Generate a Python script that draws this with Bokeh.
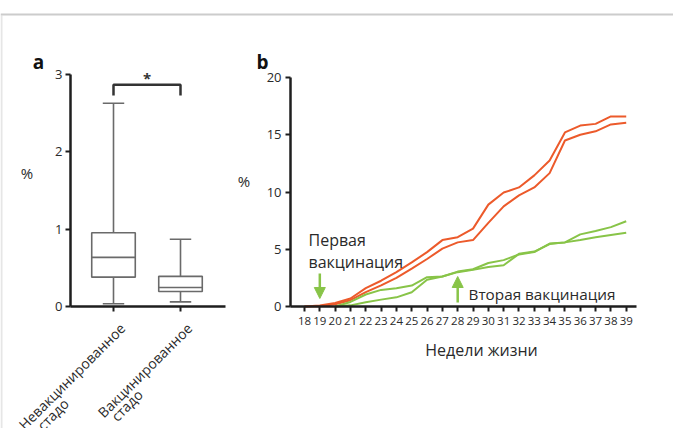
import math
from bokeh.plotting import figure
from bokeh.models import (Label, Arrow, NormalHead, FixedTicker, Range1d, LinearAxis, Span)
from bokeh.embed import file_html
from bokeh.resources import INLINE

FONT = "Open Sans"

# ---------------- Panel a data (box plot) ----------------
group_names = ["Невакцинированное", "Вакцинированное"]
group_second_line = ["стадо", "стадо"]
group_pos = [1, 2]
whisk_low = [0.035, 0.06]
q1 = [0.38, 0.195]
median = [0.635, 0.245]
q3 = [0.955, 0.39]
whisk_high = [2.63, 0.87]
sig_mark = "*"
ya_ticks = [0, 1, 2, 3]

# ---------------- Panel b data (cumulative lines) ----------------
weeks = list(range(18, 40))
red_upper = [0, 0.08, 0.3, 0.7, 1.6, 2.25, 3.0, 3.85, 4.75, 5.8, 6.05, 6.8,
             8.9, 9.95, 10.4, 11.45, 12.75, 15.2, 15.8, 15.95, 16.6, 16.6]
red_lower = [0, 0.03, 0.2, 0.55, 1.25, 1.85, 2.5, 3.3, 4.15, 5.05, 5.6, 5.8,
             7.3, 8.75, 9.7, 10.4, 11.65, 14.5, 15.0, 15.3, 15.9, 16.05]
green_weeks = list(range(20, 40))
green_upper = [0, 0.4, 1.05, 1.45, 1.6, 1.83, 2.56, 2.62, 3.05, 3.25, 3.8, 4.05,
               4.55, 4.75, 5.5, 5.6, 6.3, 6.6, 6.93, 7.45]
green_lower = [0, 0.1, 0.38, 0.6, 0.8, 1.25, 2.33, 2.62, 3.0, 3.2, 3.45, 3.6,
               4.6, 4.8, 5.45, 5.6, 5.8, 6.05, 6.25, 6.45]
yb_ticks = [0, 5, 10, 15, 20]
first_vacc_week = 19
second_vacc_week = 28
first_vacc_text = ["Первая", "вакцинация"]
second_vacc_text = "Вторая вакцинация"
xb_title = "Недели жизни"

RED = "#ec5a2b"
GREEN = "#88c448"
AXIS = "#1e1e1e"
BOXC = "#6a6a6a"
TXT = "#2a2a2a"

W, H = 673, 428
# One canvas; main ranges = canvas pixels, panel data on extra ranges
p = figure(width=W, height=H, x_range=Range1d(0, W), y_range=Range1d(H, 0),
           x_axis_location=None, y_axis_location=None, min_border=0, title=None,
           output_backend="svg", toolbar_location=None)
p.outline_line_color = None
p.xgrid.grid_line_color = None
p.ygrid.grid_line_color = None

# panel a scales: category 1 at px 113, 67 px/unit; y=0 at px 306, 77.3 px/unit
p.extra_x_ranges["ax"] = Range1d(1 + (0 - 113) / 67, 1 + (W - 113) / 67)
p.extra_y_ranges["ay"] = Range1d((306 - H) / 77.3, (306 - 0) / 77.3)
# panel b scales: week 18 at px 304, 15.32 px/week; y=0 at px 306, 11.45 px/unit
p.extra_x_ranges["bx"] = Range1d(18 + (0 - 304) / 15.32, 18 + (W - 304) / 15.32)
p.extra_y_ranges["by"] = Range1d((306 - H) / 11.45, (306 - 0) / 11.45)

A = dict(x_range_name="ax", y_range_name="ay")
B = dict(x_range_name="bx", y_range_name="by")


def style_axis(ax, size):
    ax.axis_line_color = AXIS
    ax.axis_line_width = 2.5
    ax.major_tick_line_color = AXIS
    ax.major_tick_line_width = 2
    ax.major_tick_in = 0
    ax.major_tick_out = 5
    ax.minor_tick_line_color = None
    ax.major_label_text_font = FONT
    ax.major_label_text_color = TXT
    ax.major_label_text_font_size = size


# page frame: top rule and faint left border
p.add_layout(Span(location=14, dimension="width", line_color="#cccccc", line_width=2))
p.segment(x0=[1], y0=[15], x1=[1], y1=[H], line_color="#e6e6e6", line_width=2)

# ================= Panel a =================
a_left, a_right = 1 + (70 - 113) / 67, 1 + (225 - 113) / 67
ya = LinearAxis(fixed_location=a_left, ticker=FixedTicker(ticks=ya_ticks), bounds=(0, 3), **A)
style_axis(ya, "13px")
ya.major_label_standoff = 3
p.add_layout(ya, "left")
xa = LinearAxis(fixed_location=0, ticker=FixedTicker(ticks=group_pos), bounds=(a_left, a_right), **A)
style_axis(xa, "13px")
xa.major_label_overrides = {g: "" for g in group_pos}
p.add_layout(xa, "below")

half = 0.325
cap = 0.16
p.quad(left=[x - half for x in group_pos], right=[x + half for x in group_pos],
       bottom=q1, top=q3, fill_color="white", line_color=BOXC, line_width=1.6, **A)
p.segment(x0=[x - half for x in group_pos], x1=[x + half for x in group_pos],
          y0=median, y1=median, line_color=BOXC, line_width=1.6, **A)
p.segment(x0=group_pos, x1=group_pos, y0=q3, y1=whisk_high, line_color=BOXC, line_width=1.6, **A)
p.segment(x0=group_pos, x1=group_pos, y0=q1, y1=whisk_low, line_color=BOXC, line_width=1.6, **A)
p.segment(x0=[x - cap for x in group_pos], x1=[x + cap for x in group_pos],
          y0=whisk_high, y1=whisk_high, line_color=BOXC, line_width=1.6, **A)
p.segment(x0=[x - cap for x in group_pos], x1=[x + cap for x in group_pos],
          y0=whisk_low, y1=whisk_low, line_color=BOXC, line_width=1.6, **A)

br_top, br_bot = 2.87, 2.73
p.line(x=[group_pos[0], group_pos[0], group_pos[1], group_pos[1]],
       y=[br_bot, br_top, br_top, br_bot], line_color="#333333", line_width=2.5, **A)
p.add_layout(Label(x=(group_pos[0] + group_pos[1]) / 2, y=2.95, text=sig_mark,
                   text_font=FONT, text_font_size="15px", text_font_style="bold",
                   text_align="center", text_baseline="middle", text_color="#333333", **A))

line2_offsets = [(-74, -121), (-67, -112)]
for i, x in enumerate(group_pos):
    p.add_layout(Label(x=x, y=0, x_offset=9, y_offset=-19, text=group_names[i],
                       angle=math.pi / 4, text_font=FONT, text_font_size="14px",
                       text_align="right", text_baseline="middle", text_color=TXT, **A))
    dx, dy = line2_offsets[i]
    p.add_layout(Label(x=x, y=0, x_offset=dx, y_offset=dy, text=group_second_line[i],
                       angle=math.pi / 4, text_font=FONT, text_font_size="14px",
                       text_align="left", text_baseline="middle", text_color=TXT, **A))

p.add_layout(Label(x=38, y=61, text="a", text_font=FONT, text_font_size="19px",
                   text_font_style="bold", text_align="center", text_baseline="alphabetic",
                   text_color="#111111"))
p.add_layout(Label(x=26.5, y=172, text="%", text_font=FONT, text_font_size="15px",
                   text_align="center", text_baseline="middle", text_color=TXT))

# ================= Panel b =================
b_left, b_right = 18 + (290 - 304) / 15.32, 18 + (636 - 304) / 15.32
yb = LinearAxis(fixed_location=b_left, ticker=FixedTicker(ticks=yb_ticks), bounds=(0, 20), **B)
style_axis(yb, "13px")
yb.major_label_standoff = 4
p.add_layout(yb, "left")
xb = LinearAxis(fixed_location=0, ticker=FixedTicker(ticks=weeks), bounds=(b_left, b_right), **B)
style_axis(xb, "11.5px")
xb.major_label_standoff = 5
p.add_layout(xb, "below")

p.line(weeks, red_upper, line_color=RED, line_width=2, **B)
p.line(weeks, red_lower, line_color=RED, line_width=2, **B)
p.line(green_weeks, green_upper, line_color=GREEN, line_width=2, **B)
p.line(green_weeks, green_lower, line_color=GREEN, line_width=2, **B)

p.add_layout(Arrow(end=NormalHead(size=11, fill_color=GREEN, line_color=GREEN, line_width=1),
                   x_start=first_vacc_week, y_start=2.88, x_end=first_vacc_week, y_end=0.7,
                   line_color=GREEN, line_width=2.5, **B))
p.add_layout(Arrow(end=NormalHead(size=11, fill_color=GREEN, line_color=GREEN, line_width=1),
                   x_start=second_vacc_week, y_start=0.35, x_end=second_vacc_week, y_end=2.62,
                   line_color=GREEN, line_width=2.5, **B))

p.add_layout(Label(x=308, y=239, text=first_vacc_text[0], text_font=FONT,
                   text_font_size="16px", text_align="left", text_baseline="alphabetic",
                   text_color=TXT))
p.add_layout(Label(x=308, y=261, text=first_vacc_text[1], text_font=FONT,
                   text_font_size="16px", text_align="left", text_baseline="alphabetic",
                   text_color=TXT))
p.add_layout(Label(x=468, y=293, text=second_vacc_text, text_font=FONT,
                   text_font_size="15.3px", text_align="left", text_baseline="alphabetic",
                   text_color=TXT))
p.add_layout(Label(x=481, y=349, text=xb_title, text_font=FONT,
                   text_font_size="16px", text_align="center", text_baseline="alphabetic",
                   text_color=TXT))
p.add_layout(Label(x=243.5, y=180, text="%", text_font=FONT, text_font_size="15px",
                   text_align="center", text_baseline="middle", text_color=TXT))
p.add_layout(Label(x=262, y=61, text="b", text_font=FONT, text_font_size="19px",
                   text_font_style="bold", text_align="center", text_baseline="alphabetic",
                   text_color="#111111"))

open("out.html", "w").write(file_html(p, INLINE))
